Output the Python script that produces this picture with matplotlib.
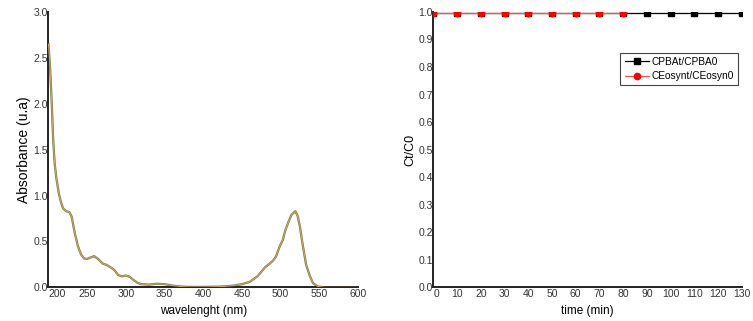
import matplotlib
matplotlib.use("Agg")
import matplotlib.pyplot as plt
import numpy as np

plt.rcParams['font.family'] = ['Liberation Sans', 'DejaVu Sans']

# UV-vis spectrum
wavelength = [200, 202, 204, 206, 208, 210, 213, 216, 219, 223, 227, 230, 234, 238,
              242, 246, 250, 254, 259, 264, 270, 275, 280, 285, 290, 295, 300, 305,
              310, 315, 320, 330, 340, 350, 360, 370, 380, 400, 420, 430, 440, 450,
              460, 470, 475, 480, 486, 490, 494, 499, 503, 506, 510, 514, 519, 522,
              525, 529, 533, 538, 542, 548, 555, 560, 600]
absorbance = [2.65, 2.40, 2.05, 1.62, 1.35, 1.20, 1.04, 0.93, 0.86, 0.83, 0.82, 0.77, 0.59, 0.45,
              0.36, 0.315, 0.31, 0.325, 0.34, 0.31, 0.26, 0.245, 0.22, 0.19, 0.135, 0.12, 0.13, 0.115,
              0.08, 0.05, 0.035, 0.03, 0.04, 0.035, 0.02, 0.01, 0.005, 0.005, 0.008, 0.012, 0.02, 0.035,
              0.06, 0.12, 0.17, 0.22, 0.26, 0.29, 0.335, 0.45, 0.52, 0.62, 0.71, 0.79, 0.83, 0.78,
              0.66, 0.44, 0.245, 0.12, 0.045, 0.01, 0.002, 0.0, 0.0]

# Ct/C0 vs time
time_cpba = [0, 10, 20, 30, 40, 50, 60, 70, 80, 90, 100, 110, 120, 130]
ratio_cpba = [0.995] * 14
time_ceo = [0, 10, 20, 30, 40, 50, 60, 70, 80]
ratio_ceo = [0.995] * 9

fig = plt.figure(figsize=(7.53, 3.21), dpi=100)
ax1 = fig.add_axes([0.0644, 0.1047, 0.411, 0.858])
ax2 = fig.add_axes([0.5755, 0.1050, 0.4096, 0.858])

tick_kw = dict(labelsize=7.5, length=0, labelcolor='#333333')

# Left panel: spectrum
ax1.plot(wavelength, absorbance, color='#6f7a3a', lw=1.6, zorder=2)
ax1.plot(wavelength, absorbance, color='#c9a46a', lw=0.8, zorder=3)
ax1.set_xlim(200, 600)
ax1.set_ylim(0, 3.0)
ax1.set_xticks(np.arange(200, 601, 50))
ax1.set_yticks(np.arange(0, 3.01, 0.5))
ax1.yaxis.set_major_formatter(lambda v, p: f'{v:.1f}')
ax1.set_xlabel('wavelenght (nm)', fontsize=8.5, labelpad=4)
ax1.set_ylabel('Absorbance (u.a)', fontsize=10, labelpad=2)

# Right panel: Ct/C0
ax2.plot(time_cpba, ratio_cpba, color='black', lw=0.9, marker='s', ms=4,
         label='CPBAt/CPBA0', zorder=3)
ax2.plot(time_ceo, ratio_ceo, color='#ff5050', lw=0.9, marker='o', ms=4.5,
         markerfacecolor='red', markeredgecolor='red', label='CEosynt/CEosyn0', zorder=4)
ax2.set_xlim(0, 130)
ax2.set_ylim(0, 1.0)
ax2.set_xticks(np.arange(0, 131, 10))
ax2.set_yticks(np.arange(0, 1.01, 0.1))
ax2.yaxis.set_major_formatter(lambda v, p: f'{v:.1f}')
ax2.set_xlabel('time (min)', fontsize=8.5, labelpad=4)
ax2.set_ylabel('Ct/C0', fontsize=9, labelpad=1)
leg = ax2.legend(loc='upper right', bbox_to_anchor=(0.9805, 0.836),
                 bbox_transform=fig.transFigure, borderaxespad=0,
                 fontsize=7.3, fancybox=False, edgecolor='#444444',
                 handlelength=2.4, handletextpad=0.3, borderpad=0.4,
                 labelspacing=0.45, framealpha=1)
leg.get_frame().set_linewidth(0.8)

for ax in (ax1, ax2):
    ax.tick_params(axis='both', **tick_kw)
    ax.tick_params(axis='y', pad=0.5)
    ax.tick_params(axis='x', pad=1.5)
    for s in ('top', 'right'):
        ax.spines[s].set_visible(False)
    for s in ('left', 'bottom'):
        ax.spines[s].set_linewidth(1.4)
        ax.spines[s].set_color('#222222')

# first x label sits just right of the y axis, as in the original
fig.canvas.draw()
ax1.get_xticklabels()[0].set_horizontalalignment('left')
first = ax2.get_xticklabels()[0]
first.set_horizontalalignment('left')

fig.savefig('out.png', dpi=100)
